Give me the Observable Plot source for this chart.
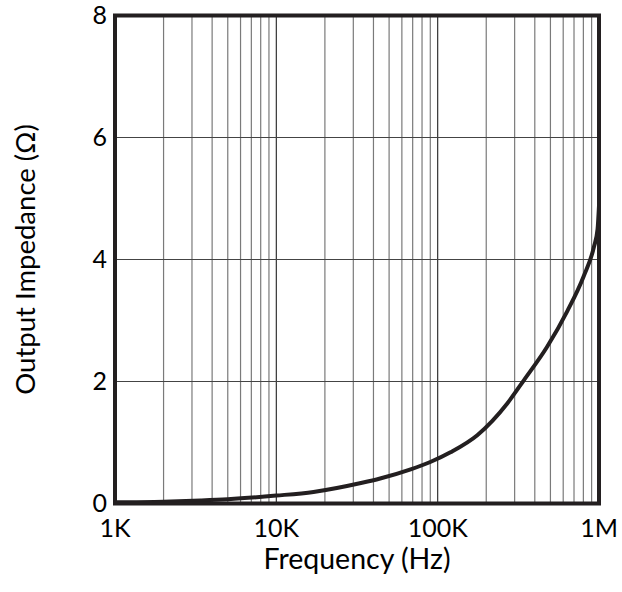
<!DOCTYPE html>
<html>
<head>
<meta charset="utf-8">
<script src="https://cdn.jsdelivr.net/npm/d3@7"></script>
<script src="https://cdn.jsdelivr.net/npm/@observablehq/plot@0.6"></script>
<style>
  html, body { margin: 0; padding: 0; background: #fff; }
  #chart svg g[aria-label="x-axis tick label"] text,
  #chart svg g[aria-label="y-axis tick label"] text { font-size: 25px; }
  #chart svg g[aria-label="x-axis label"] text { font-size: 28.5px; }
  #chart svg g[aria-label="y-axis label"] text { font-size: 27.5px; }
</style>
</head>
<body>
<div id="chart"></div>
<script>
// Frequency (Hz) and output impedance (Ω)
const freq = [1000, 2000, 3400, 5000, 10000, 17000, 34000, 44000, 68000, 90000, 120000, 176000, 270000, 342000, 477000, 635000, 805000, 929000, 980000, 1000000];
const impedance = [0.02, 0.03, 0.05, 0.07, 0.13, 0.19, 0.34, 0.41, 0.56, 0.68, 0.84, 1.12, 1.64, 2.02, 2.57, 3.15, 3.73, 4.2, 4.5, 4.88];

const xTicks = [1e3, 1e4, 1e5, 1e6];
const xTickLabels = ["1K", "10K", "100K", "1M"];
const yTicks = [0, 2, 4, 6, 8];

const minorGrid = [];
for (const d of [1e3, 1e4, 1e5]) for (let k = 2; k <= 9; k++) minorGrid.push(d * k);
const majorGrid = [1e4, 1e5];
const hGrid = [2, 4, 6];

const data = freq.map((f, i) => ({f, z: impedance[i]}));

const chart = Plot.plot({
  width: 622,
  height: 592,
  marginLeft: 114.5,
  marginRight: 23.5,
  marginTop: 15,
  marginBottom: 89,
  style: {fontFamily: "Lato, 'Open Sans', sans-serif", fontSize: "23px", color: "#000", background: "#fff"},
  x: {type: "log", domain: [1e3, 1e6]},
  y: {domain: [0, 8]},
  marks: [
    Plot.ruleX(minorGrid, {stroke: "#7a7a7a", strokeWidth: 1.2, strokeOpacity: 1}),
    Plot.ruleX(majorGrid, {stroke: "#333", strokeWidth: 1.2}),
    Plot.ruleY(hGrid, {stroke: "#444", strokeWidth: 1}),
    Plot.line(data, {x: "f", y: "z", stroke: "#231f20", strokeWidth: 4, curve: "monotone-x"}),
    Plot.frame({stroke: "#231f20", strokeWidth: 4}),
    Plot.axisX({ticks: xTicks, tickFormat: (d) => xTickLabels[xTicks.indexOf(d)], tickSize: 0, tickPadding: 16, label: null}),
    Plot.axisX({ticks: [], label: "Frequency (Hz)", labelAnchor: "center", labelArrow: "none", labelOffset: 65, dx: -8}),
    Plot.axisY({ticks: yTicks, tickSize: 0, tickPadding: 8,
      label: "Output Impedance (Ω)", labelAnchor: "center", labelArrow: "none", labelOffset: 100})
  ]
});
document.getElementById("chart").appendChild(chart);
</script>
</body>
</html>
